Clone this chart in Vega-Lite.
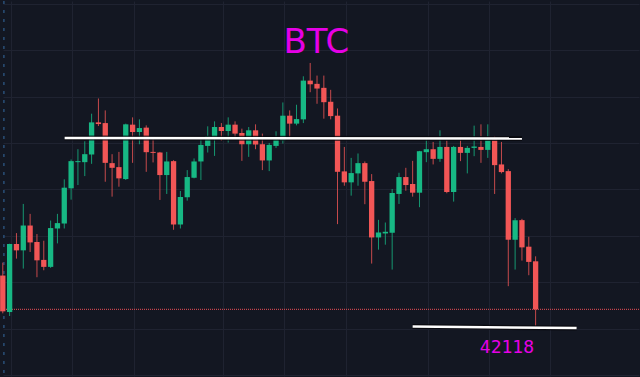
{
  "$schema": "https://vega.github.io/schema/vega-lite/v6.json",
  "width": 640,
  "height": 377,
  "autosize": {"type": "fit", "contains": "padding"},
  "padding": 0,
  "background": "#131722",
  "config": {
    "view": {"stroke": null},
    "axis": {"labels": false, "ticks": false, "domain": false, "grid": true, "gridColor": "#1f2331", "gridWidth": 1, "gridOpacity": 1, "title": null,
             "minExtent": 0, "maxExtent": 0, "tickSize": 0, "labelPadding": 0, "titlePadding": 0, "offset": 0}
  },
  "datasets": {
    "candles": [
      {"t":0,"open":43204,"high":43483,"low":42390,"close":42433},
      {"t":1,"open":42418,"high":43890,"low":42332,"close":43884},
      {"t":2,"open":43884,"high":44119,"low":43569,"close":43747},
      {"t":3,"open":43747,"high":44747,"low":43354,"close":44282},
      {"t":4,"open":44282,"high":44533,"low":43712,"close":43918},
      {"t":5,"open":43927,"high":44098,"low":43168,"close":43532},
      {"t":6,"open":43541,"high":43954,"low":43318,"close":43391},
      {"t":7,"open":43391,"high":44389,"low":43369,"close":44227},
      {"t":8,"open":44218,"high":44533,"low":43897,"close":44334},
      {"t":9,"open":44325,"high":45277,"low":44218,"close":45097},
      {"t":10,"open":45084,"high":45705,"low":44839,"close":45669},
      {"t":11,"open":45647,"high":45926,"low":45154,"close":45669},
      {"t":12,"open":45647,"high":46097,"low":45347,"close":45819},
      {"t":13,"open":45812,"high":46691,"low":45611,"close":46504},
      {"t":14,"open":46504,"high":47019,"low":46425,"close":46468},
      {"t":15,"open":46489,"high":46762,"low":45225,"close":45632},
      {"t":16,"open":45626,"high":45819,"low":44904,"close":45525},
      {"t":17,"open":45540,"high":45868,"low":45118,"close":45298},
      {"t":18,"open":45283,"high":46477,"low":45262,"close":46462},
      {"t":19,"open":46455,"high":46612,"low":45632,"close":46297},
      {"t":20,"open":46297,"high":46569,"low":46033,"close":46382},
      {"t":21,"open":46391,"high":46440,"low":45439,"close":45862},
      {"t":22,"open":45868,"high":46189,"low":45641,"close":45847},
      {"t":23,"open":45855,"high":45868,"low":44833,"close":45369},
      {"t":24,"open":45369,"high":45868,"low":44962,"close":45662},
      {"t":25,"open":45669,"high":45690,"low":44190,"close":44304},
      {"t":26,"open":44304,"high":45026,"low":44218,"close":44897},
      {"t":27,"open":44891,"high":45476,"low":44818,"close":45326},
      {"t":28,"open":45311,"high":45727,"low":45298,"close":45662},
      {"t":29,"open":45662,"high":46177,"low":45262,"close":46018},
      {"t":30,"open":45997,"high":46419,"low":45855,"close":46204},
      {"t":31,"open":46189,"high":46526,"low":45782,"close":46404},
      {"t":32,"open":46404,"high":46489,"low":46104,"close":46318},
      {"t":33,"open":46318,"high":46612,"low":46069,"close":46455},
      {"t":34,"open":46455,"high":46526,"low":46189,"close":46262},
      {"t":35,"open":46275,"high":46369,"low":45675,"close":46033},
      {"t":36,"open":46033,"high":46404,"low":45761,"close":46333},
      {"t":37,"open":46333,"high":46462,"low":45926,"close":46027},
      {"t":38,"open":46033,"high":46262,"low":45476,"close":45684},
      {"t":39,"open":45684,"high":46061,"low":45454,"close":46018},
      {"t":40,"open":45997,"high":46312,"low":45954,"close":46134},
      {"t":41,"open":46119,"high":46933,"low":46048,"close":46648},
      {"t":42,"open":46648,"high":46762,"low":46168,"close":46477},
      {"t":43,"open":46477,"high":46884,"low":46440,"close":46575},
      {"t":44,"open":46569,"high":47497,"low":46489,"close":47404},
      {"t":45,"open":47404,"high":47784,"low":47154,"close":47325},
      {"t":46,"open":47334,"high":47512,"low":46905,"close":47233},
      {"t":47,"open":47248,"high":47512,"low":46584,"close":46939},
      {"t":48,"open":46948,"high":47205,"low":46569,"close":46639},
      {"t":49,"open":46648,"high":46804,"low":44312,"close":45439},
      {"t":50,"open":45448,"high":45975,"low":45139,"close":45212},
      {"t":51,"open":45212,"high":45739,"low":44925,"close":45412},
      {"t":52,"open":45405,"high":45834,"low":45139,"close":45626},
      {"t":53,"open":45626,"high":45662,"low":44741,"close":45225},
      {"t":54,"open":45240,"high":45390,"low":43462,"close":44025},
      {"t":55,"open":44025,"high":44404,"low":43762,"close":44132},
      {"t":56,"open":44111,"high":44347,"low":43869,"close":44147},
      {"t":57,"open":44126,"high":45069,"low":43333,"close":44983},
      {"t":58,"open":44962,"high":45418,"low":44747,"close":45326},
      {"t":59,"open":45326,"high":45525,"low":45032,"close":45154},
      {"t":60,"open":45176,"high":45675,"low":44904,"close":44989},
      {"t":61,"open":44989,"high":45890,"low":44677,"close":45883},
      {"t":62,"open":45862,"high":46189,"low":45647,"close":45926},
      {"t":63,"open":45926,"high":46082,"low":45598,"close":45718},
      {"t":64,"open":45718,"high":46333,"low":45654,"close":45975},
      {"t":65,"open":45975,"high":46119,"low":44977,"close":45004},
      {"t":66,"open":45004,"high":45997,"low":44797,"close":45975},
      {"t":67,"open":45975,"high":46177,"low":45669,"close":45847},
      {"t":68,"open":45847,"high":45997,"low":45405,"close":45954},
      {"t":69,"open":45954,"high":46434,"low":45776,"close":45984},
      {"t":70,"open":45975,"high":46462,"low":45632,"close":45911},
      {"t":71,"open":45911,"high":46462,"low":45739,"close":46155},
      {"t":72,"open":46155,"high":46211,"low":44962,"close":45583},
      {"t":73,"open":45598,"high":46082,"low":45405,"close":45433},
      {"t":74,"open":45454,"high":45497,"low":42975,"close":43976},
      {"t":75,"open":43976,"high":44441,"low":43333,"close":44398},
      {"t":76,"open":44398,"high":44426,"low":43526,"close":43811},
      {"t":77,"open":43826,"high":44040,"low":43211,"close":43498},
      {"t":78,"open":43511,"high":43618,"low":42118,"close":42476}
    ],
    "levels": [
      {"t1":9.05,"t2":76.0,"p1":46168,"p2":46155},
      {"t1":60.0,"t2":84.0,"p1":42105,"p2":42075}
    ],
    "last": [{"price":42476}],
    "cursor": [{"t":0.16}],
    "title": [{"t":45.9,"price":47998,"text":"BTC"}],
    "note": [{"t":73.8,"price":41533,"text":"42118"}]
  },
  "layer": [
    {
      "data": {"name": "last"},
      "mark": {"type": "rule", "color": "#c4434d", "strokeDash": [1, 1], "strokeWidth": 1.2, "opacity": 1},
      "encoding": {
        "y": {"field": "price", "type": "quantitative", "title": null,
              "scale": {"domain": [41040, 49119], "nice": false, "zero": false, "padding": 0},
              "axis": {"values": [49061,48561,48061,47561,47061,46561,46061,45561,45061,44561,44061,43561,43061,42561,42061,41561,41061]}}
      }
    },
    {
      "data": {"name": "cursor"},
      "mark": {"type": "rule", "color": "#2a4f78", "strokeDash": [3, 6], "strokeWidth": 1.5},
      "encoding": {
        "x": {"field": "t", "type": "quantitative", "title": null,
              "scale": {"domain": [0.03, 93.135], "nice": false, "zero": false, "padding": 0},
              "axis": {"values": [1.2, 10.15, 19.15, 32.25, 41.2, 50.2, 62.2, 71.2, 80.15]}}
      }
    },
    {
      "data": {"name": "candles"},
      "mark": {"type": "rule", "strokeWidth": 1, "opacity": 0.8},
      "encoding": {
        "x": {"field": "t", "type": "quantitative", "title": null},
        "y": {"field": "low", "type": "quantitative", "title": null},
        "y2": {"field": "high"},
        "color": {"condition": {"test": "datum.close >= datum.open", "value": "#17b884"}, "value": "#f25656"}
      }
    },
    {
      "data": {"name": "candles"},
      "mark": {"type": "bar", "width": 5.3},
      "encoding": {
        "x": {"field": "t", "type": "quantitative", "title": null},
        "y": {"field": "open", "type": "quantitative", "title": null},
        "y2": {"field": "close"},
        "color": {"condition": {"test": "datum.close >= datum.open", "value": "#17b884"}, "value": "#f25656"}
      }
    },
    {
      "data": {"name": "levels"},
      "mark": {"type": "rule", "color": "#07080c", "strokeWidth": 5, "opacity": 0.8},
      "encoding": {
        "x": {"field": "t1", "type": "quantitative", "title": null},
        "x2": {"field": "t2"},
        "y": {"field": "p1", "type": "quantitative", "title": null},
        "y2": {"field": "p2"}
      }
    },
    {
      "data": {"name": "levels"},
      "mark": {"type": "rule", "color": "#ffffff", "strokeWidth": 2.5},
      "encoding": {
        "x": {"field": "t1", "type": "quantitative", "title": null},
        "x2": {"field": "t2"},
        "y": {"field": "p1", "type": "quantitative", "title": null},
        "y2": {"field": "p2"}
      }
    },
    {
      "data": {"name": "title"},
      "mark": {"type": "text", "font": "DejaVu Sans", "fontSize": 34, "color": "#e600e6", "align": "center", "baseline": "alphabetic"},
      "encoding": {
        "x": {"field": "t", "type": "quantitative", "title": null},
        "y": {"field": "price", "type": "quantitative", "title": null},
        "text": {"field": "text"}
      }
    },
    {
      "data": {"name": "note"},
      "mark": {"type": "text", "font": "DejaVu Sans Mono", "fontSize": 18, "color": "#e600e6", "align": "center", "baseline": "alphabetic"},
      "encoding": {
        "x": {"field": "t", "type": "quantitative", "title": null},
        "y": {"field": "price", "type": "quantitative", "title": null},
        "text": {"field": "text"}
      }
    }
  ]
}
